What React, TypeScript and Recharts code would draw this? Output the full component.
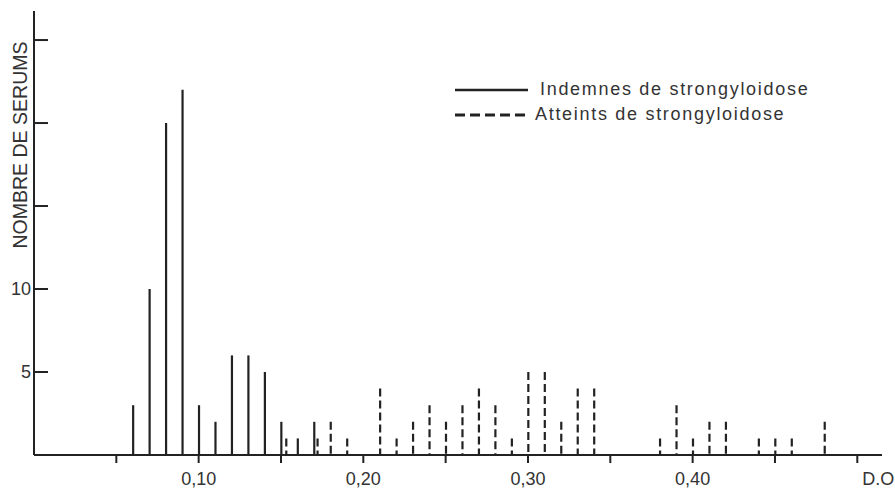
import { BarChart, Bar, XAxis, YAxis, Legend } from "recharts";

// D.O. classes (x) and serum counts
const solidX = [0.06, 0.07, 0.08, 0.09, 0.10, 0.11, 0.12, 0.13, 0.14, 0.15, 0.16, 0.17];
const solidN = [3, 10, 20, 22, 3, 2, 6, 6, 5, 2, 1, 2];

const dashedX = [0.153, 0.172, 0.18, 0.19, 0.21, 0.22, 0.23, 0.24, 0.25, 0.26, 0.27, 0.28, 0.29,
    0.30, 0.31, 0.32, 0.33, 0.34, 0.38, 0.39, 0.40, 0.41, 0.42, 0.44, 0.45, 0.46, 0.48];
const dashedN = [1, 1, 2, 1, 4, 1, 2, 3, 2, 3, 4, 3, 1, 5, 5, 2, 4, 4, 1, 3, 1, 2, 2, 1, 1, 1, 2];

const xTicks = [0.05, 0.10, 0.15, 0.20, 0.25, 0.30, 0.35, 0.40, 0.45, 0.50];
const xLabels: Record<string, string> = { "0.1": "0,10", "0.2": "0,20", "0.3": "0,30", "0.4": "0,40", "0.5": "D.O" };
const yTicks = [5, 10, 15, 20, 25];
const yLabelled = [5, 10];

const SOLID_NAME = "Indemnes de strongyloidose";
const DASHED_NAME = "Atteints de strongyloidose";

const INK = "#222";
const FONT = '"Liberation Sans", Arial, Helvetica, sans-serif';

// one table for the chart, built from the arrays above
const rowsByX = new Map<number, { x: number; solid?: number; dashed?: number }>();
solidX.forEach((x, i) => rowsByX.set(x, { ...(rowsByX.get(x) || { x }), solid: solidN[i] }));
dashedX.forEach((x, i) => rowsByX.set(x, { ...(rowsByX.get(x) || { x }), dashed: dashedN[i] }));
const data = [...rowsByX.values()].sort((a, b) => a.x - b.x);

const stick = (dashed: boolean) => (props: any) => {
    const { x, y, width, height } = props;
    if (!Number.isFinite(height) || !Number.isFinite(x) || height <= 0) return null;
    const cx = x + width / 2;
    return (
        <line x1={cx} y1={y} x2={cx} y2={y + height} stroke={INK} strokeWidth={2.2}
            strokeDasharray={dashed ? "8 4" : undefined} />
    );
};

function XTick({ x, y, payload }: any) {
    const key = String(Math.round(payload.value * 100) / 100);
    const txt = xLabels[key];
    if (!txt) return null;
    const end = txt === "D.O";
    return (
        <text x={end ? x + 5 : x} y={y} dy={20} textAnchor={end ? "start" : "middle"}
            fill="#333" fontSize={18} fontFamily={FONT}>{txt}</text>
    );
}

function LegendBox() {
    const row = (dash: string | undefined, label: string, gap: number) => (
        <div style={{ display: "flex", alignItems: "center", height: 25 }}>
            <svg width={73} height={6} style={{ display: "block" }}>
                <line x1={0} y1={3} x2={dash ? 72 : 73} y2={3} stroke={INK} strokeWidth={dash ? 3 : 2.5} strokeDasharray={dash} />
            </svg>
            <span style={{ marginLeft: gap, fontSize: 18, letterSpacing: 1.7, color: "#333", fontFamily: FONT, lineHeight: "25px" }}>
                {label}
            </span>
        </div>
    );
    return (
        <div>
            {row(undefined, SOLID_NAME, 12)}
            {row("10 5", DASHED_NAME, 7)}
        </div>
    );
}

export default function App() {
    return (
        <div style={{ width: 895, height: 488, background: "#fff" }}>
            <style>{`body{margin:0}`}</style>
            <BarChart width={895} height={488} data={data}
                margin={{ top: 11, right: 13, left: 0, bottom: 0 }}
                style={{ fontFamily: FONT }}>
                <XAxis xAxisId="s" dataKey="x" type="number" domain={[0, 0.515]} ticks={xTicks}
                    interval={0} stroke={INK} strokeWidth={2} tickSize={8} tickMargin={2}
                    height={33} tick={<XTick />} allowDataOverflow />
                <XAxis xAxisId="d" dataKey="x" type="number" domain={[0, 0.515]} hide height={0} allowDataOverflow />
                <YAxis type="number" domain={[0, 26.75]} ticks={yTicks} interval={0} width={34}
                    stroke={INK} strokeWidth={2} tickSize={-14} tickMargin={17} allowDataOverflow
                    tick={{ fill: "#333", fontSize: 18, fontFamily: FONT }}
                    tickFormatter={(v: number) => (yLabelled.includes(v) ? String(v) : "")}
                    label={({ viewBox }: any) => (
                        <text x={viewBox.x + 20} y={viewBox.y + 134} textAnchor="middle" dominantBaseline="central"
                            transform={`rotate(-90 ${viewBox.x + 20} ${viewBox.y + 134})`}
                            fill="#333" fontSize={19.5} fontFamily={FONT}>NOMBRE DE SERUMS</text>
                    )} />
                <Legend content={<LegendBox />} layout="vertical" align="center" verticalAlign="middle"
                    wrapperStyle={{ position: "absolute", left: 455, top: 77, width: 420 }} />
                <Bar xAxisId="s" dataKey="solid" name={SOLID_NAME} barSize={2} fill={INK}
                    shape={stick(false)} isAnimationActive={false} />
                <Bar xAxisId="d" dataKey="dashed" name={DASHED_NAME} barSize={2} fill={INK}
                    shape={stick(true)} isAnimationActive={false} />
            </BarChart>
        </div>
    );
}
